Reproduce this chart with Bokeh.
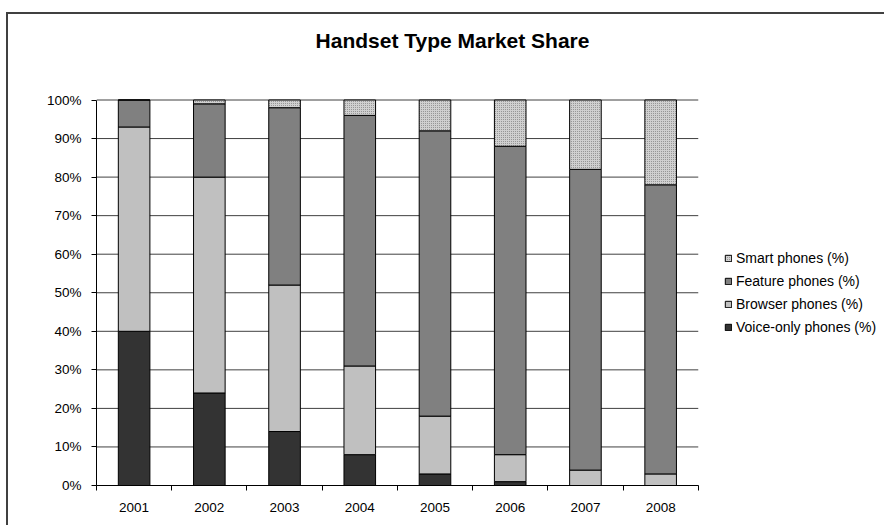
from bokeh.plotting import figure
from bokeh.models import (ColumnDataSource, Range1d, FixedTicker, LinearAxis,
                          Legend, LegendItem, Label)
from bokeh.transform import stack
from bokeh.embed import file_html
from bokeh.resources import INLINE

years = ["2001", "2002", "2003", "2004", "2005", "2006", "2007", "2008"]
voice = [40, 24, 14, 8, 3, 1, 0, 0]
browser = [53, 56, 38, 23, 15, 7, 4, 3]
feature = [7, 19, 46, 65, 74, 80, 78, 75]
smart = [0, 1, 2, 4, 8, 12, 18, 22]
y_ticks = [0, 10, 20, 30, 40, 50, 60, 70, 80, 90, 100]
title_text = "Handset Type Market Share"

FONT = "Liberation Sans"

# ---- layout (pixels) ----
W_FIG, H_FIG = 878, 513          # canvas starts at window (8, 14)
B_LEFT, B_BOTTOM = 88, 42
frame_w = W_FIG - B_LEFT
frame_h = H_FIG - B_BOTTOM
cat_px = 75.22                   # width of one category
val_px = 3.855                   # pixels per percent

n = len(years)
xpos = [i + 1 for i in range(n)]
x_lo, x_hi_cat = 0.5, n + 0.5
x_end = x_lo + frame_w / cat_px
y_top = max(y_ticks)
y_end = frame_h / val_px

source = ColumnDataSource(dict(x=xpos, voice=voice, browser=browser,
                               feature=feature, smart=smart))

p = figure(width=W_FIG, height=H_FIG, output_backend="svg",
           toolbar_location=None, title=None,
           x_range=Range1d(x_lo, x_end), y_range=Range1d(0, y_end),
           min_border_left=B_LEFT, min_border_right=0, min_border_top=0,
           min_border_bottom=B_BOTTOM, x_axis_location=None,
           y_axis_location=None)
p.styles = {"margin-left": "6px", "margin-top": "12px",
            "border-left": "2px solid #404040",
            "border-top": "2px solid #404040"}
p.outline_line_color = None
p.background_fill_color = "white"
p.border_fill_color = "white"
p.xgrid.visible = False
p.ygrid.visible = False

# y axis
yax = LinearAxis(ticker=FixedTicker(ticks=y_ticks, minor_ticks=[]),
                 bounds=(0, y_top))
yax.major_label_overrides = {t: f"{t}%" for t in y_ticks}
yax.major_label_text_font = FONT
yax.major_label_text_font_size = "13.5px"
yax.major_label_text_color = "#000000"
yax.major_tick_in = 0
yax.major_tick_out = 5
yax.major_label_standoff = 10
yax.axis_line_color = "#000000"
yax.major_tick_line_color = "#000000"
p.add_layout(yax, "left")

# x axis: labels at centres, ticks at category boundaries
bounds = [i + 0.5 for i in range(n + 1)]
xax = LinearAxis(ticker=FixedTicker(ticks=xpos, minor_ticks=bounds),
                 bounds=(x_lo, x_hi_cat))
xax.major_label_overrides = {x: y for x, y in zip(xpos, years)}
xax.major_label_text_font = FONT
xax.major_label_text_font_size = "13.5px"
xax.major_label_text_color = "#000000"
xax.major_tick_in = 0
xax.major_tick_out = 0
xax.minor_tick_in = 0
xax.minor_tick_out = 5
xax.minor_tick_line_color = "#000000"
xax.major_label_standoff = 12
xax.axis_line_color = "#000000"
p.add_layout(xax, "below")

# horizontal grid lines, limited to the category area
p.segment(x0=[x_lo] * len(y_ticks), x1=[x_hi_cat] * len(y_ticks),
          y0=y_ticks, y1=y_ticks, line_color="#404040", line_width=1)

BAR_W = 0.42
names = ["voice", "browser", "feature", "smart"]
labels = ["Voice-only phones (%)", "Browser phones (%)",
          "Feature phones (%)", "Smart phones (%)"]
colors = ["#333333", "#c0c0c0", "#808080", "#d0d0d0"]
renderers = []
for i, nm in enumerate(names):
    kw = {}
    if nm == "smart":
        kw = dict(hatch_pattern="dot", hatch_color="#858585",
                  hatch_scale=2, hatch_weight=1)
    r = p.vbar(x="x", width=BAR_W, bottom=stack(*names[:i]) if i else 0,
               top=stack(*names[:i + 1]), source=source,
               fill_color=colors[i], line_color="#000000", line_width=1, **kw)
    renderers.append(r)

items = [LegendItem(label=labels[i], renderers=[renderers[i]])
         for i in reversed(range(4))]
legend = Legend(items=items, location=(628, 148))
legend.padding = 0
legend.margin = 0
legend.border_line_color = None
legend.background_fill_alpha = 0
legend.glyph_width = 8
legend.glyph_height = 8
legend.label_height = 20
legend.spacing = 3
legend.label_standoff = 4
legend.label_text_font = FONT
legend.label_text_font_size = "14px"
legend.label_text_color = "#000000"
p.add_layout(legend, "center")

title = Label(x=356, y=445, x_units="screen", y_units="screen",
              text=title_text, text_font=FONT, text_font_size="21px",
              text_font_style="bold", text_align="center",
              text_baseline="alphabetic", text_color="#000000")
p.add_layout(title)

open("out.html", "w").write(file_html(p, INLINE))
